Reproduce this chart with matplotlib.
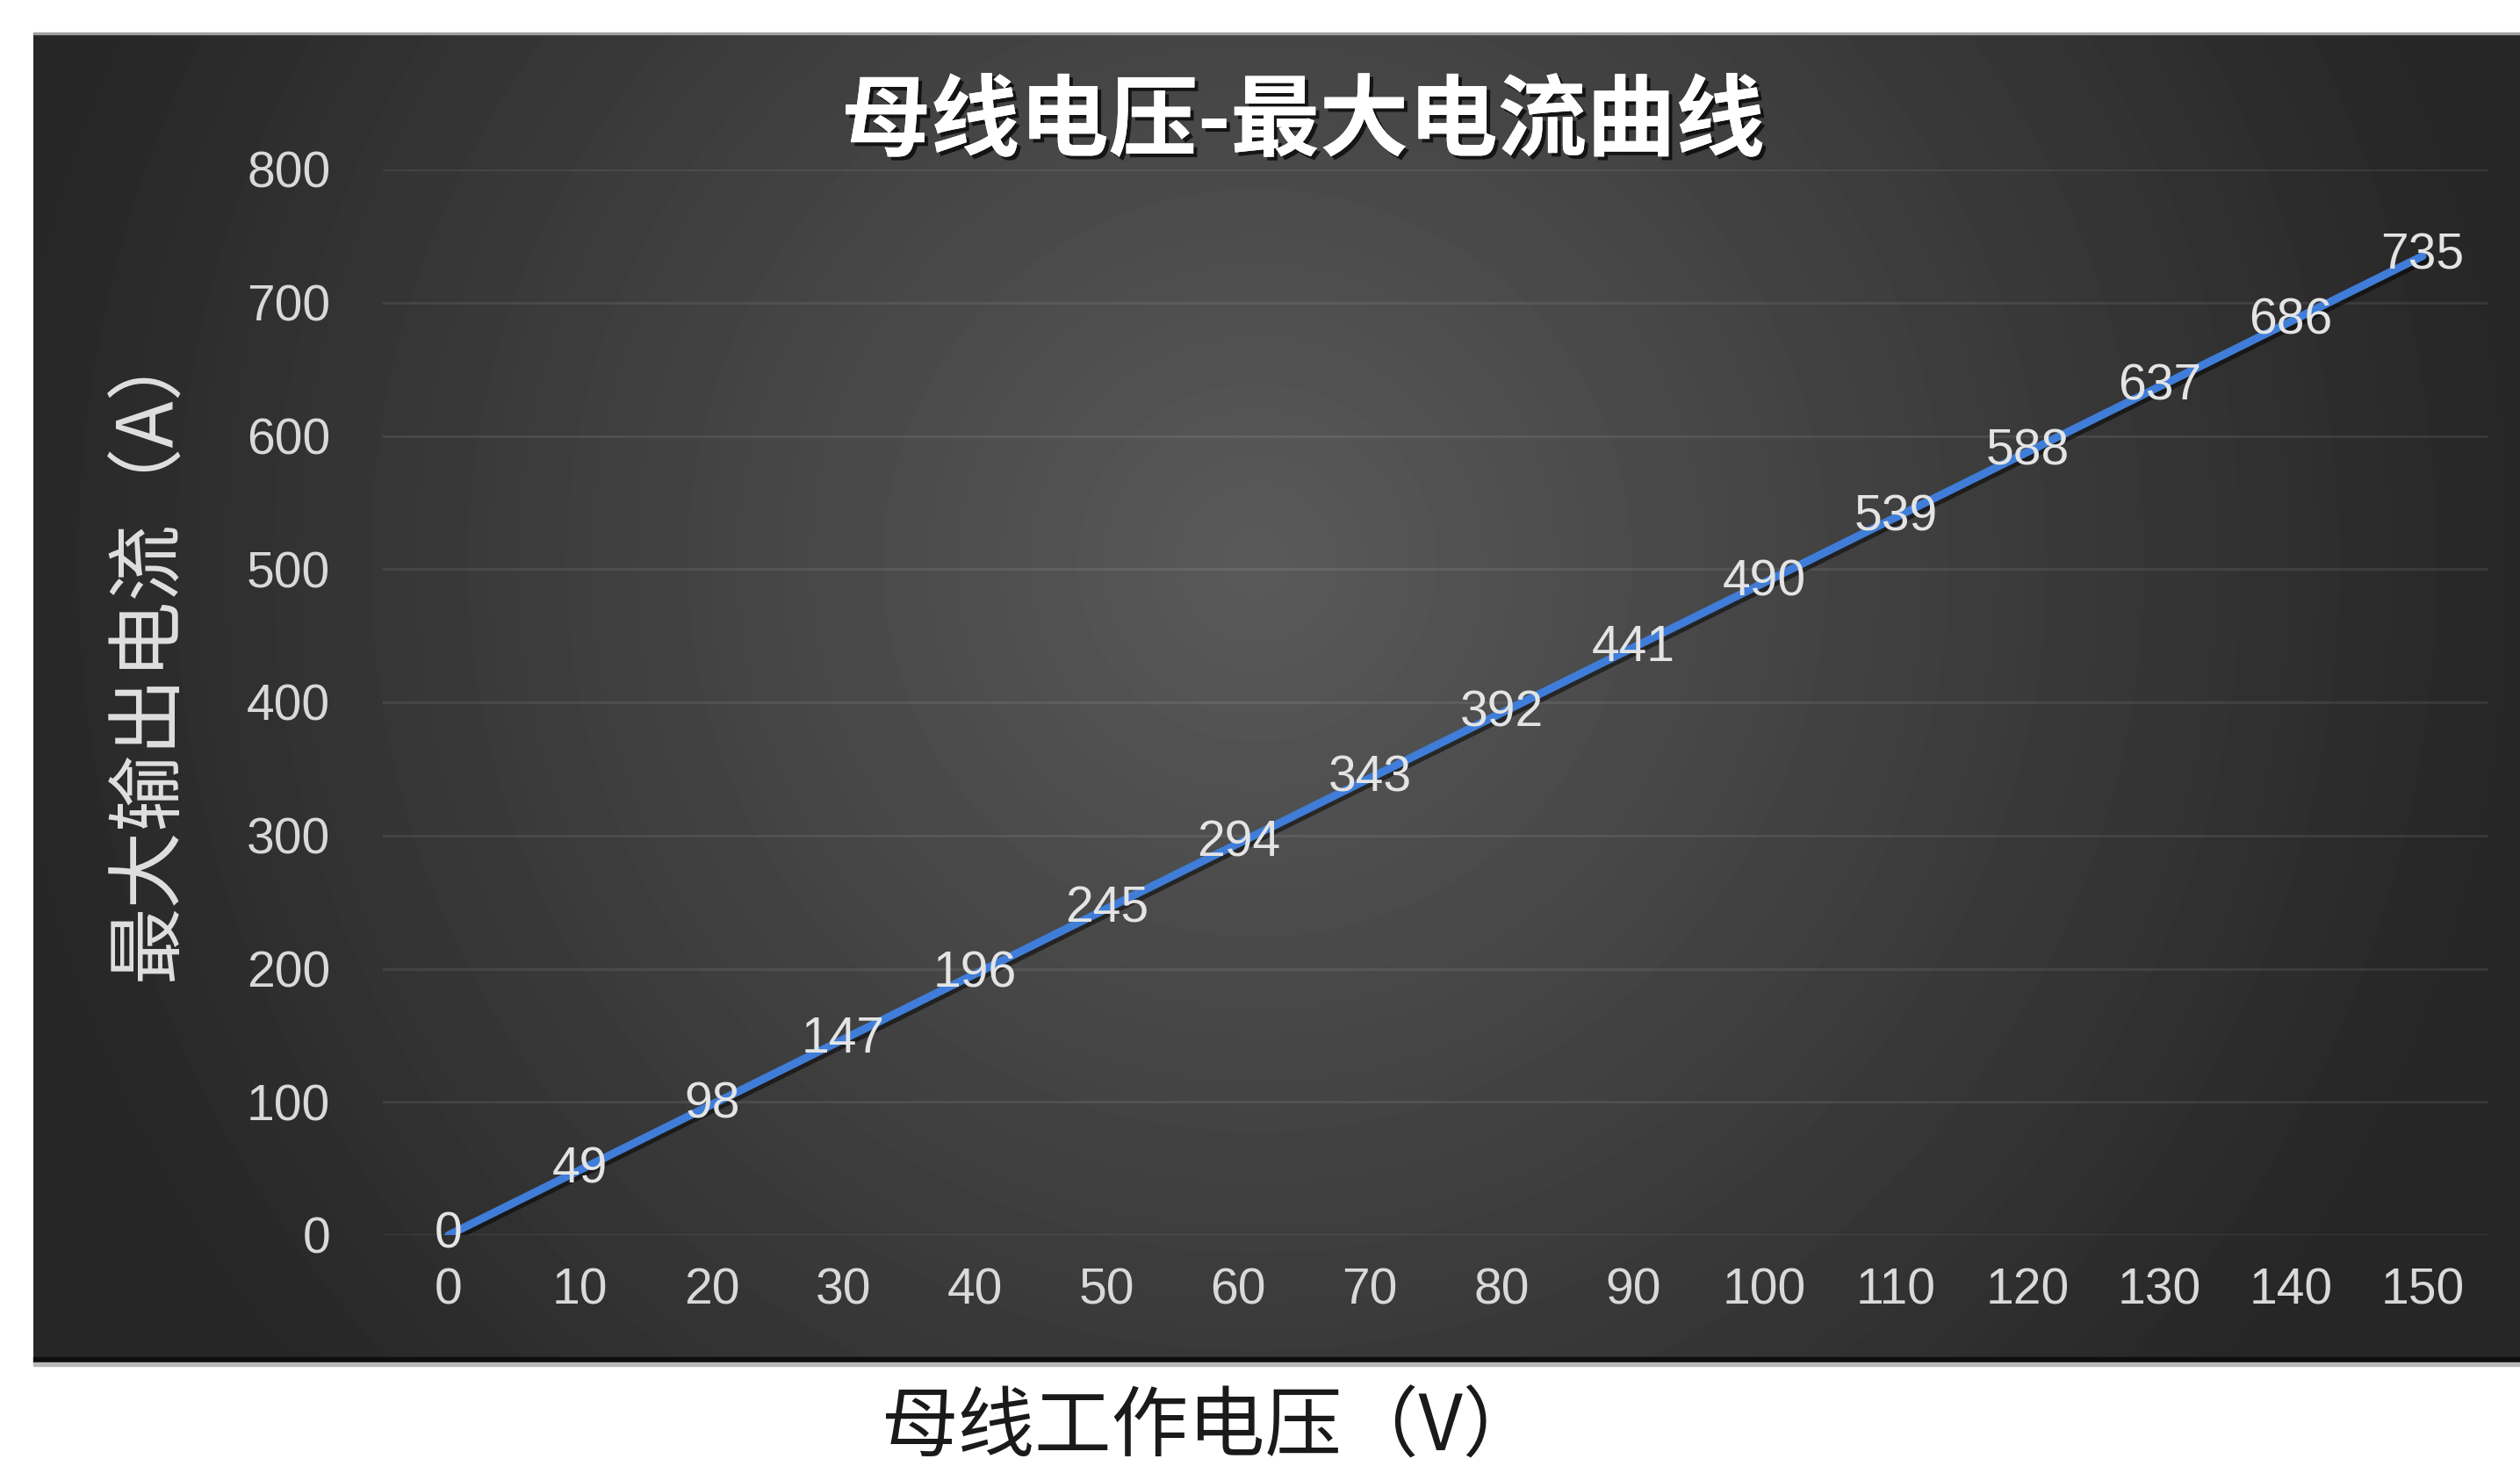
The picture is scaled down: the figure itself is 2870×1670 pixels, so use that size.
import numpy as np
import matplotlib.pyplot as plt
import matplotlib.patheffects as pe
from matplotlib.patches import Rectangle

# bus voltage (V) vs. max output current (A)
voltage = [0, 10, 20, 30, 40, 50, 60, 70, 80, 90, 100, 110, 120, 130, 140, 150]
current = [0, 49, 98, 147, 196, 245, 294, 343, 392, 441, 490, 539, 588, 637, 686, 735]
y_ticks = [0, 100, 200, 300, 400, 500, 600, 700, 800]

title = '母线电压-最大电流曲线'
x_label = '母线工作电压（V）'
y_label = '最大输出电流（A）'

plt.rcParams['font.family'] = ['Liberation Sans', 'DejaVu Sans']
cjk = ['Noto Sans CJK SC', 'DejaVu Sans']

W, H = 2870, 1670
fig = plt.figure(figsize=(W / 100, H / 100), dpi=100)
fig.patch.set_facecolor('white')

# dark panel with a radial gradient
px0, py0, px1, py1 = 38, 38, 2870, 1552
bg = fig.add_axes([px0 / W, 1 - py1 / H, (px1 - px0) / W, (py1 - py0) / H])
bg.set_axis_off()
xx, yy = np.meshgrid(np.arange(px0, px1, 4), np.arange(py0, py1, 4))
t = np.clip(np.hypot(xx - 1430, yy - 640) / 1450, 0, 1)
shade = (90 - 52 * t) / 255
bg.imshow(shade, cmap='gray', vmin=0, vmax=1, aspect='auto',
          interpolation='bilinear', extent=(0, 1, 0, 1))
bg.set_xlim(0, 1)
bg.set_ylim(0, 1)

# panel edges: thin light top border, dark shadow at bottom
fig.patches.append(Rectangle((px0 / W, 1 - (py0 + 1) / H), (px1 - px0) / W, 2 / H,
                             transform=fig.transFigure, color='#a0a0a0', zorder=5))
fig.patches.append(Rectangle((px0 / W, 1 - py1 / H), (px1 - px0) / W, 6 / H,
                             transform=fig.transFigure, color='#0e0e0e', zorder=5))
fig.patches.append(Rectangle((px0 / W, 1 - (py1 + 4) / H), (px1 - px0) / W, 4 / H,
                             transform=fig.transFigure, color='#b8b8b8', zorder=5))

ax = fig.add_axes([436 / W, 1 - 1407 / H, (2834 - 436) / W, (1407 - 193) / H])
ax.patch.set_alpha(0)
ax.plot(voltage, current, color='#3F7DD8', lw=6.5, solid_capstyle='round',
        path_effects=[pe.SimpleLineShadow(offset=(2, -3), shadow_color='black', alpha=0.5),
                      pe.Normal()])
ax.set_xlim(-5, 155)
ax.set_ylim(0, 800)
ax.set_xticks(voltage)
ax.set_yticks(y_ticks)
ax.grid(axis='y', color='white', alpha=0.08, lw=2.2)
ax.set_axisbelow(True)
for s in ax.spines.values():
    s.set_visible(False)
ax.tick_params(axis='both', length=0, colors='#d9d9d9', labelsize=41)
ax.tick_params(axis='y', pad=43)
ax.tick_params(axis='x', pad=26)

# value labels centred on each point
for x, y in zip(voltage, current):
    ax.text(x, y, str(y), ha='center', va='center', fontsize=41, color='#e4e4e4',
            zorder=5)

fig.text(1484 / W, 1 - 140 / H, title, ha='center', va='center', fontsize=73,
         weight='bold', color='white', family=cjk,
         path_effects=[pe.withSimplePatchShadow(offset=(3, -3), shadow_rgbFace='black', alpha=0.7),
                       pe.Normal()])
fig.text(170 / W, 1 - 740 / H, y_label, ha='center', va='center', rotation=90,
         fontsize=63, color='#e0e0e0', family=cjk)
fig.text(1378 / W, 1 - 1628 / H, x_label, ha='center', va='center',
         fontsize=63, color='#1a1a1a', family=cjk)

fig.savefig('out.png', dpi=100)
